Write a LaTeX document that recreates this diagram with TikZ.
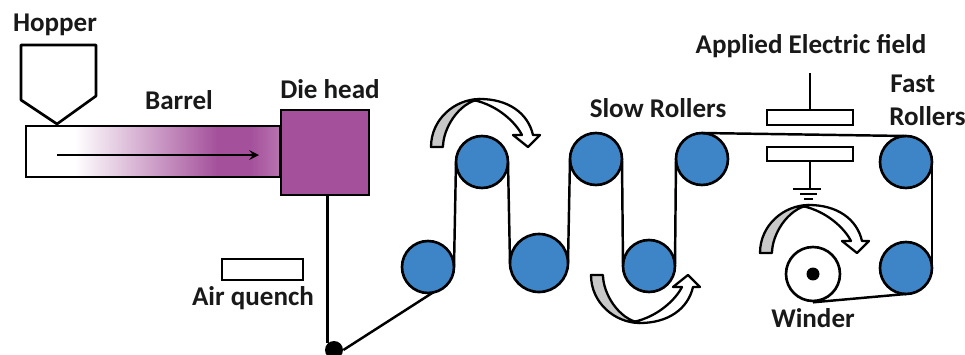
\documentclass[tikz,border=0pt]{standalone}
\usepackage{fontspec}
\setmainfont{Carlito}
\definecolor{rollerblue}{RGB}{61,133,198}
\definecolor{diepurple}{RGB}{164,80,155}
\definecolor{dielight}{RGB}{184,116,176}
\definecolor{bendgray}{RGB}{200,200,200}
\usetikzlibrary{shapes,arrows,positioning,calc}
\tikzset{
    belt/.style={draw=black, line width=1.4pt},
    roller/.style={circle, draw=black, line width=1.5pt, fill=rollerblue, inner sep=0pt, outer sep=0pt, minimum size=1.04cm},
    plate/.style={rectangle, draw=black, line width=1.5pt, fill=white, inner sep=0pt, outer sep=0pt},
    lbl/.style={font=\fontsize{15.4}{18}\selectfont\bfseries, text=black!90, inner sep=0pt},
    bendarrow/.pic={
        \draw[line width=1.3pt, fill=white, line join=round] (0,0) .. controls (28,0) and (48,14) .. (53,36) -- (60,36) -- (48,48) -- (33,36) -- (42,36) .. controls (36,24) and (18,6) .. (-7,1) -- cycle;
        \draw[line width=1.3pt, fill=bendgray, line join=round] (-49,48) .. controls (-49,20) and (-25,0) .. (0,0) .. controls (-22,4) and (-37,30) .. (-37,48) -- cycle;
    }
}

\begin{document}
\begin{tikzpicture}[x=0.02cm, y=-0.02cm]
    \useasboundingbox (0,0) rectangle (965,355);
    \clip (0,0) rectangle (965,355);
    \fill[white] (0,0) rectangle (965,355);

    % barrel and die
    \shade[left color=white, right color=diepurple] (75,126) rectangle (218,177);
    \fill[diepurple] (217,126) rectangle (251,177);
    \shade[left color=diepurple, right color=dielight] (250,126) rectangle (280,177);
    \node[plate, fill=none, minimum width=5.08cm, minimum height=1.02cm] (barrel) at (153,151.5) {};
    \node[plate, fill=diepurple, minimum width=1.76cm, minimum height=1.7cm] (die) at (325,152.5) {};
    \coordinate (flowstart) at (57,155);
    \coordinate (flowend) at (259,155);
    \draw[belt, ->, >=stealth] (flowstart) -- (flowend);
    \draw[line width=1.5pt, fill=white, line join=round] (21,45) -- (96,45) -- (96,96) -- (57,124) -- (21,100) -- cycle;

    \node[lbl] (hopper) at (55,25) {Hopper};
    \node[lbl] (barrellbl) at (179,100) {Barrel};
    \node[lbl] (dielbl) at (330,89) {Die head};

    % air quench
    \node[plate, minimum width=1.62cm, minimum height=0.42cm] (quench) at (262.5,269.5) {};
    \node[lbl] (quenchlbl) at (253,298) {Air quench};

    % rollers
    \node[roller] (r1) at (428,267) {};
    \node[roller] (r2) at (482,162) {};
    \node[roller, minimum size=1.16cm] (r3) at (539,263) {};
    \node[roller] (r4) at (596,159) {};
    \node[roller] (r5) at (649,266) {};
    \node[roller] (r6) at (702,159) {};
    \node[roller] (r7) at (906,162) {};
    \node[roller] (r8) at (906,268) {};
    \node[circle, draw=black, line width=1.5pt, fill=white, inner sep=0pt, minimum size=1.08cm] (winder) at (813,274) {};
    \node[circle, fill=black, inner sep=0pt, minimum size=0.26cm] (hub) at (813,274) {};
    \node[circle, fill=black, inner sep=0pt, minimum size=0.36cm] (guide) at (334,350) {};

    % fibre path
    \draw[belt] (guide.north west |- die.south) -- (guide.north west);
    \draw[belt] (guide.east) -- (r1.-79);
    \draw[belt] (r1.east) -- (r2.west);
    \draw[belt] (r2.east) -- (r3.west);
    \draw[belt] (r3.east) -- (r4.west);
    \draw[belt] (r4.east) -- (r5.west);
    \draw[belt] (r5.east) -- (r6.west);
    \draw[belt] (r6.north) -- (r7.north);
    \draw[belt] (r7.east) -- (r8.east);
    \draw[belt] (r8.south) -- (winder.south);

    % electric field
    \node[plate, minimum width=1.72cm, minimum height=0.3cm] (plateup) at (810,117.5) {};
    \node[plate, minimum width=1.72cm, minimum height=0.28cm] (platedown) at (810,154) {};
    \coordinate (leadtop) at (810,73);
    \coordinate (ground) at (810,189);
    \draw[belt] (leadtop) -- (plateup.north);
    \draw[belt] (platedown.south) -- (ground);
    \draw[belt] (793,189) -- (821,189);
    \draw[belt] (800,194) -- (817,194);
    \draw[belt] (804,199) -- (813,199);

    \pic at (480,99) {bendarrow};
    \pic[yscale=-1] at (640,323) {bendarrow};
    \pic at (809,205) {bendarrow};

    \node[lbl] (slow) at (658,108) {Slow Rollers};
    \node[lbl] (field) at (811,46) {Applied Electric field};
    \node[lbl, anchor=west] (fast) at (890,84) {Fast};
    \node[lbl, anchor=west] (fast2) at (889,116) {Rollers};
    \node[lbl] (winderlbl) at (813,318) {Winder};
\end{tikzpicture}
\end{document}
